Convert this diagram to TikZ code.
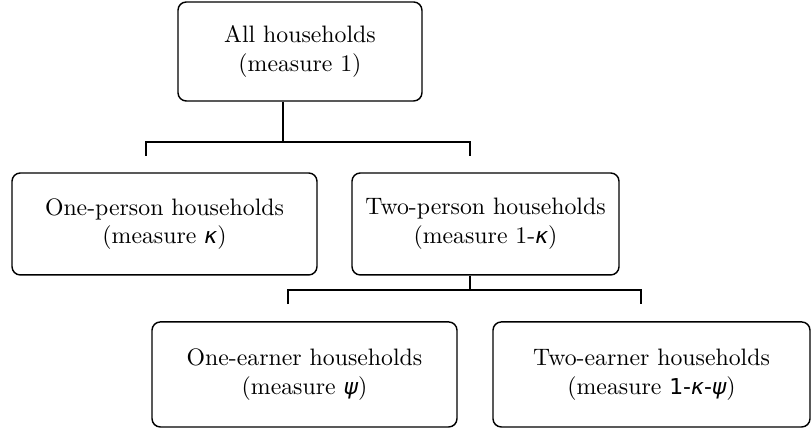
\documentclass[tikz,border=0pt]{standalone}
\usepackage{fontspec}
\usepackage{tikz}
\usetikzlibrary{calc}
\newfontfamily\grk[Scale=0.92]{DejaVu Sans}
\newcommand{\gk}[1]{{\grk\itshape #1}}
\newcommand{\gn}[1]{{\grk #1}}
\tikzset{
	hbox/.style={draw, semithick, rounded corners=3.5pt, align=center,
		inner sep=2pt},
	branch/.style={semithick}
}

\begin{document}
\begin{tikzpicture}
			\useasboundingbox (0,0) rectangle (12,6.325);
			\node[hbox, minimum width=3.606cm, minimum height=1.463cm] (all)		at	(4.433, 5.564)	{All households\\(measure 1)};
			%
			\node[hbox, minimum width=4.507cm, minimum height=1.507cm] (one)		at	(2.431, 3.015)	{One-person households\\(measure \gk{κ})};
			\node[hbox, minimum width=3.946cm, minimum height=1.507cm] (two)		at	(7.175, 3.015)	{Two-person households\\(measure 1-\gk{κ})};
			%
			\node[hbox, minimum width=4.507cm, minimum height=1.552cm] (oneearn)	at	(4.500, 0.791)	{One-earner households\\(measure \gk{ψ})};
			\node[hbox, minimum width=4.685cm, minimum height=1.552cm] (twoearn)	at	(9.628, 0.791)	{Two-earner households\\(measure \gn{1-}\gk{κ}\gn{-}\gk{ψ})};
			%
			\coordinate (j1)	at	(4.182, 4.227);
			\coordinate (j1l)	at	(2.158, 4.227);
			\coordinate (j1r)	at	(6.946, 4.227);
			\coordinate (j2)	at	(6.946, 2.039);
			\coordinate (j2l)	at	(4.256, 2.039);
			\coordinate (j2r)	at	(9.473, 2.039);
			%
			\draw[branch]	(j1 |- all.south) -- (j1);
			\draw[branch]	($(j1l)+(0,-0.207)$) -- (j1l) -- (j1r) -- ($(j1r)+(0,-0.207)$);
			\draw[branch]	(j2 |- two.south) -- (j2);
			\draw[branch]	($(j2l)+(0,-0.207)$) -- (j2l) -- (j2r) -- ($(j2r)+(0,-0.207)$);
		\end{tikzpicture}
\end{document}
